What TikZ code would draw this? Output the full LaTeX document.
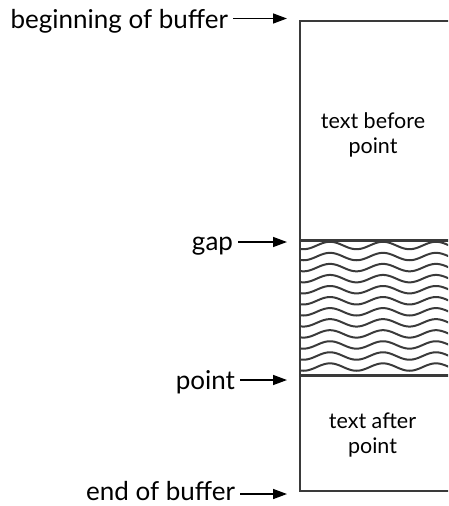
\documentclass[tikz,border=0pt]{standalone}
\usepackage{fontspec}
\setmainfont{Lato}
\usetikzlibrary{arrows.meta}
\definecolor{boxgray}{HTML}{3A3A3A}
\tikzset{
  lbl/.style={anchor=base east, inner sep=0pt, outer xsep=5pt, font=\fontsize{26}{30}\selectfont, text=black},
  inlbl/.style={anchor=base, inner sep=0pt, align=center, font=\fontsize{21.5}{25}\selectfont, text=black},
  arr/.style={line width=1.5pt, -{Triangle[length=14pt,width=10pt]}},
  boxline/.style={line width=2.4pt, draw=boxgray},
  wave/.style={line width=2pt, draw=boxgray},
}
\begin{document}
\begin{tikzpicture}[x=1pt,y=-1pt]
\useasboundingbox (0,0) rectangle (448,506);
\clip (0,0) rectangle (448,506);
% box
\draw[boxline] (460,21) -- (300,21) -- (300,491) -- (460,491);
\draw[boxline] (300,240.5) -- (460,240.5);
\draw[boxline] (300,375.5) -- (460,375.5);
% waves
\foreach \k in {0,...,11}{
  \draw[wave] plot[domain=300:450, samples=120, smooth] (\x, {245.5 + 11.05*\k - 3.7*cos(6.79245*(\x-330))});
}
% inner labels (base anchor = last line baseline)
\node[inlbl] (tbp) at (373,153) {text before\\point};
\node[inlbl] (tap) at (372.5,453) {text after\\point};
% outer labels
\node[lbl] (lbeg) at (233,28) {beginning of buffer};
\node[lbl] (lgap) at (238,250) {gap};
\node[lbl] (lpt) at (240,389) {point};
\node[lbl] (lend) at (240,500) {end of buffer};
\coordinate (abeg) at (287,18.5);
\coordinate (agap) at (287,242);
\coordinate (apt) at (287,380);
\coordinate (aend) at (287,494);
\draw[arr] (lbeg.east |- abeg) -- (abeg);
\draw[arr] (lgap.east |- agap) -- (agap);
\draw[arr] (lpt.east |- apt) -- (apt);
\draw[arr] (lend.east |- aend) -- (aend);
\end{tikzpicture}
\end{document}
